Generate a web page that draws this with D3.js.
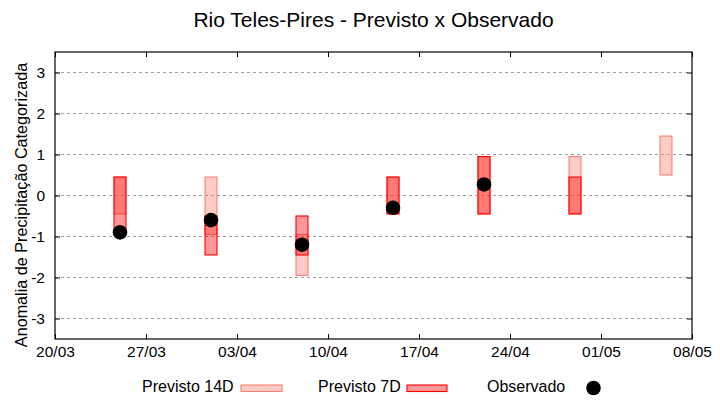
<!DOCTYPE html>
<html>
<head>
<meta charset="utf-8">
<script src="https://cdn.jsdelivr.net/npm/d3@7"></script>
<style>
  body { margin: 0; background: #fff; }
  svg { font-family: "Liberation Sans", Arial, sans-serif; }
</style>
</head>
<body>
<script>
// datas das previsões (dd/mm), ano fixo
var dates = ["25/03", "01/04", "08/04", "15/04", "22/04", "29/04", "06/05"];
var prev14Lo = [-0.45, -0.95, -1.95, -0.45, -0.45, -0.45, 0.5];
var prev14Hi = [0.45, 0.45, -0.95, 0.45, 0.95, 0.95, 1.45];
var prev7Lo = [-0.95, -1.45, -1.45, -0.45, -0.45, -0.45, null];
var prev7Hi = [0.45, -0.5, -0.5, 0.45, 0.95, 0.45, null];
var observed = [-0.9, -0.6, -1.2, -0.3, 0.27, null, null];

var xTickLabels = ["20/03", "27/03", "03/04", "10/04", "17/04", "24/04", "01/05", "08/05"];
var yTickValues = [-3, -2, -1, 0, 1, 2, 3];
var legendLabels = ["Previsto 14D", "Previsto 7D", "Observado"];

function parse(s) {
  var p = s.split("/");
  return new Date(Date.UTC(2020, +p[1] - 1, +p[0]));
}

var width = 720, height = 400;
var margin = {top: 52, right: 28, bottom: 61, left: 55};

var svg = d3.select("body").append("svg")
  .attr("width", width).attr("height", height);

var x = d3.scaleUtc()
  .domain([parse(xTickLabels[0]), parse(xTickLabels[xTickLabels.length - 1])])
  .range([margin.left, width - margin.right]);
var y = d3.scaleLinear()
  .domain([-3.5, 3.5])
  .range([height - margin.bottom, margin.top]);

var halfDay = 0.46 * 864e5;

// title
svg.append("text")
  .attr("x", (margin.left + width - margin.right) / 2)
  .attr("y", 27)
  .attr("text-anchor", "middle")
  .attr("font-size", 21)
  .text("Rio Teles-Pires - Previsto x Observado");

// grid
svg.append("g").selectAll("line")
  .data(yTickValues)
  .enter().append("line")
  .attr("x1", margin.left).attr("x2", width - margin.right)
  .attr("y1", function(d) { return y(d); })
  .attr("y2", function(d) { return y(d); })
  .attr("stroke", "#a0a0a0")
  .attr("stroke-dasharray", "3,3");

var rows = dates.map(function(d, i) {
  return {date: parse(d), lo14: prev14Lo[i], hi14: prev14Hi[i], lo7: prev7Lo[i], hi7: prev7Hi[i], obs: observed[i]};
});

// previsto 14D
svg.append("g").selectAll("rect")
  .data(rows.filter(function(d) { return d.lo14 != null; }))
  .enter().append("rect")
  .attr("x", function(d) { return x(new Date(+d.date - halfDay)); })
  .attr("width", function(d) { return x(new Date(+d.date + halfDay)) - x(new Date(+d.date - halfDay)); })
  .attr("y", function(d) { return y(d.hi14); })
  .attr("height", function(d) { return y(d.lo14) - y(d.hi14); })
  .attr("fill", "salmon").attr("fill-opacity", 0.4)
  .attr("stroke", "salmon").attr("stroke-width", 1.1);

// previsto 7D
svg.append("g").selectAll("rect")
  .data(rows.filter(function(d) { return d.lo7 != null; }))
  .enter().append("rect")
  .attr("x", function(d) { return x(new Date(+d.date - halfDay)); })
  .attr("width", function(d) { return x(new Date(+d.date + halfDay)) - x(new Date(+d.date - halfDay)); })
  .attr("y", function(d) { return y(d.hi7); })
  .attr("height", function(d) { return y(d.lo7) - y(d.hi7); })
  .attr("fill", "red").attr("fill-opacity", 0.4)
  .attr("stroke", "red").attr("stroke-width", 1.1);

// observado
svg.append("g").selectAll("circle")
  .data(rows.filter(function(d) { return d.obs != null; }))
  .enter().append("circle")
  .attr("cx", function(d) { return x(d.date); })
  .attr("cy", function(d) { return y(d.obs); })
  .attr("r", 7.3)
  .attr("fill", "#000");

// axes
var xTicks = xTickLabels.map(parse);
var fmt = d3.utcFormat("%d/%m");

var gx = svg.append("g")
  .attr("transform", "translate(0," + (height - margin.bottom) + ")")
  .call(d3.axisBottom(x).tickValues(xTicks).tickFormat(fmt).tickSizeInner(-5).tickSizeOuter(0).tickPadding(7));
var gxTop = svg.append("g")
  .attr("transform", "translate(0," + margin.top + ")")
  .call(d3.axisTop(x).tickValues(xTicks).tickFormat("").tickSizeInner(-5).tickSizeOuter(0));
var gy = svg.append("g")
  .attr("transform", "translate(" + margin.left + ",0)")
  .call(d3.axisLeft(y).tickValues(yTickValues).tickFormat(function(d) { return String(d); }).tickSizeInner(-5).tickSizeOuter(0).tickPadding(10));
var gyRight = svg.append("g")
  .attr("transform", "translate(" + (width - margin.right) + ",0)")
  .call(d3.axisRight(y).tickValues(yTickValues).tickFormat("").tickSizeInner(-5).tickSizeOuter(0));

[gx, gxTop, gy, gyRight].forEach(function(g) {
  g.select(".domain").remove();
  g.selectAll("line").attr("stroke", "#000");
  g.selectAll("text").attr("font-size", 15.5).attr("fill", "#000")
    .attr("font-family", "Liberation Sans, Arial, sans-serif");
});

// frame
svg.append("rect")
  .attr("x", margin.left).attr("y", margin.top)
  .attr("width", width - margin.left - margin.right)
  .attr("height", height - margin.top - margin.bottom)
  .attr("fill", "none").attr("stroke", "#000").attr("stroke-width", 1.2);

// y label
svg.append("text")
  .attr("transform", "translate(27,205) rotate(-90)")
  .attr("text-anchor", "middle")
  .attr("font-size", 16.2)
  .text("Anomalia de Precipitação Categorizada");

// legend
var legend = svg.append("g").attr("font-size", 16);
var legX = [142, 318, 487];
var swX = [241, 407];
legendLabels.forEach(function(lab, i) {
  legend.append("text").attr("x", legX[i]).attr("y", 392).text(lab);
});
legend.append("rect").attr("x", swX[0]).attr("y", 385).attr("width", 41).attr("height", 6.5)
  .attr("fill", "salmon").attr("fill-opacity", 0.4).attr("stroke", "salmon").attr("stroke-width", 1.1);
legend.append("rect").attr("x", swX[1]).attr("y", 385).attr("width", 40).attr("height", 6.5)
  .attr("fill", "red").attr("fill-opacity", 0.4).attr("stroke", "red").attr("stroke-width", 1.1);
legend.append("circle").attr("cx", 593.5).attr("cy", 388).attr("r", 7.3).attr("fill", "#000");
</script>
</body>
</html>
